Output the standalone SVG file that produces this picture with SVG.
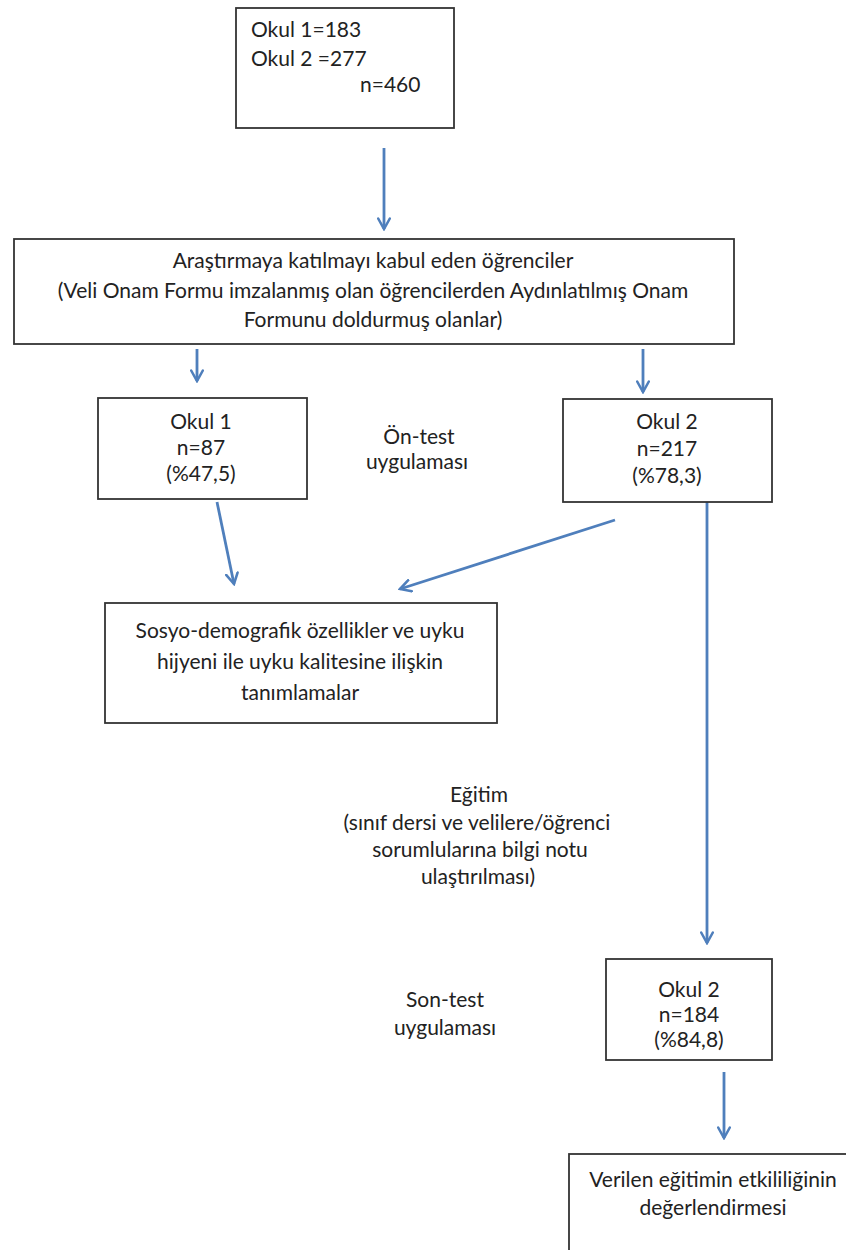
<svg xmlns="http://www.w3.org/2000/svg" width="846" height="1250" viewBox="0 0 846 1250">
<defs>
<style>
.box{fill:#ffffff;stroke:#333333;stroke-width:1.8}
.t{font-family:Lato,"Open Sans","Liberation Sans",sans-serif;font-size:21px;fill:#222222}
.c{text-anchor:middle}
.conn{stroke:#4f7fbc;stroke-width:2.8;fill:none;marker-end:url(#ah)}
</style>
<marker id="ah" viewBox="0 0 12 12" refX="10" refY="6" markerWidth="5" markerHeight="5" markerUnits="strokeWidth" orient="auto">
<polyline points="1,1 10,6 1,11" fill="none" stroke="#4f7fbc" stroke-width="2.2" stroke-linecap="round"/>
</marker>
</defs>
<rect width="846" height="1250" fill="#ffffff"/>
<g id="connectors">
<line class="conn" x1="384" y1="148" x2="384" y2="229"/>
<line class="conn" x1="197" y1="349" x2="197" y2="381"/>
<line class="conn" x1="643" y1="349" x2="643" y2="392"/>
<line class="conn" x1="217" y1="502" x2="234" y2="584"/>
<line class="conn" x1="615" y1="520" x2="400" y2="589"/>
<line class="conn" x1="707" y1="502" x2="707" y2="943"/>
<line class="conn" x1="724" y1="1072" x2="724" y2="1138"/>
</g>
<g id="n1">
<rect class="box" x="236" y="8" width="218" height="120"/>
<text class="t" x="251" y="37">Okul 1=183</text>
<text class="t" x="251" y="66">Okul 2 =277</text>
<text class="t" x="360" y="92">n=460</text>
</g>
<g id="n2">
<rect class="box" x="14" y="239" width="720" height="105"/>
<text class="t c" x="373" y="268">Araştırmaya katılmayı kabul eden öğrenciler</text>
<text class="t c" x="373" y="298">(Veli Onam Formu imzalanmış olan öğrencilerden Aydınlatılmış Onam</text>
<text class="t c" x="373" y="327">Formunu doldurmuş olanlar)</text>
</g>
<g id="okul1">
<rect class="box" x="98" y="398" width="209" height="101"/>
<text class="t c" x="201" y="429">Okul 1</text>
<text class="t c" x="201" y="455">n=87</text>
<text class="t c" x="201" y="481">(%47,5)</text>
</g>
<g id="ontest">
<text class="t c" x="419" y="444">Ön-test</text>
<text class="t c" x="417" y="469">uygulaması</text>
</g>
<g id="okul2">
<rect class="box" x="563" y="399" width="209" height="103"/>
<text class="t c" x="667" y="429">Okul 2</text>
<text class="t c" x="667" y="456">n=217</text>
<text class="t c" x="667" y="483">(%78,3)</text>
</g>
<g id="sosyo">
<rect class="box" x="105" y="603" width="392" height="120"/>
<text class="t c" x="300" y="638">Sosyo-demografik özellikler ve uyku</text>
<text class="t c" x="300" y="669">hijyeni ile uyku kalitesine ilişkin</text>
<text class="t c" x="300" y="700">tanımlamalar</text>
</g>
<g id="egitim">
<text class="t c" x="479" y="802">Eğitim</text>
<text class="t c" x="477" y="830">(sınıf dersi ve velilere/öğrenci</text>
<text class="t c" x="480" y="857">sorumlularına bilgi notu</text>
<text class="t c" x="478" y="884">ulaştırılması)</text>
</g>
<g id="sontest">
<text class="t c" x="445" y="1007">Son-test</text>
<text class="t c" x="445" y="1035">uygulaması</text>
</g>
<g id="okul2b">
<rect class="box" x="606" y="959" width="166" height="101"/>
<text class="t c" x="689" y="997">Okul 2</text>
<text class="t c" x="689" y="1022">n=184</text>
<text class="t c" x="689" y="1047">(%84,8)</text>
</g>
<g id="sonuc">
<rect class="box" x="569" y="1154" width="300" height="120"/>
<text class="t c" x="713" y="1187">Verilen eğitimin etkililiğinin</text>
<text class="t c" x="713" y="1215">değerlendirmesi</text>
</g>
</svg>
